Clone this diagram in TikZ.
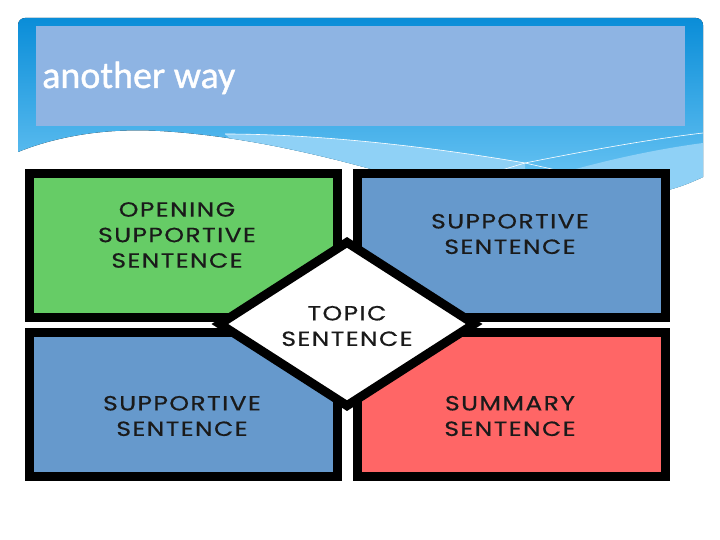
\documentclass[tikz,border=0pt]{standalone}
\usepackage{fontspec}
\usetikzlibrary{shapes.geometric,positioning}
\newfontfamily\titlefont[FakeBold=1]{Carlito}
\newfontfamily\boxfont[FakeStretch=1.22,LetterSpace=7,FakeBold=0.6]{Poppins}
\definecolor{headdark}{HTML}{0A8DD8}
\definecolor{headlight}{HTML}{6CC6F4}
\definecolor{bandlight}{HTML}{8FD1F6}
\definecolor{titlebg}{HTML}{8EB4E3}
\definecolor{boxgreen}{HTML}{66CC66}
\definecolor{boxblue}{HTML}{6699CC}
\definecolor{boxred}{HTML}{FF6666}
\definecolor{ink}{HTML}{1A1A1A}

\begin{document}
\begin{tikzpicture}[x=1pt, y=-1pt,
  panel/.style={rectangle, draw=black, line width=9pt, fill=#1, minimum width=308pt, minimum height=144pt, inner sep=0pt},
  txt/.style={font=\boxfont\fontsize{20.5}{25.5}\selectfont, align=center, text=ink, inner sep=0pt},
  wave/.style={draw=white, line width=0.6pt}
]
  \useasboundingbox (0,0) rectangle (720,540);
  % header with the wave at its foot
  \fill[top color=headdark, bottom color=headlight]
    (18,152) [rounded corners=7pt] -- (18,18) -- (703,18) [sharp corners] -- (703,177)
    .. controls (690,183) and (680,187) .. (668,190) -- (450,190) -- (360,166)
    .. controls (300,150) and (230,135) .. (160,131) .. controls (110,128) and (60,135) .. (18,152) -- cycle;
  \begin{scope}
    \clip (18,152) -- (18,18) -- (703,18) -- (703,177)
      .. controls (690,183) and (680,187) .. (668,190) -- (450,190) -- (360,166)
      .. controls (300,150) and (230,135) .. (160,131) .. controls (110,128) and (60,135) .. (18,152) -- cycle;
    \fill[bandlight] (225,134) .. controls (330,134) and (450,150) .. (525,163) -- (525,200) -- (300,200) -- cycle;
    \fill[bandlight] (703,143) .. controls (650,150) and (600,162) .. (565,172) -- (668,200) -- (710,200) -- cycle;
    \draw[wave] (225,134) .. controls (330,134) and (450,150) .. (525,163) -- (565,172);
    \draw[wave] (495,172) -- (525,163) .. controls (600,148) and (660,138) .. (703,133);
  \end{scope}
  \fill[titlebg] (36,26) rectangle (685,126);
  \node[anchor=base west, inner sep=0pt, text=white, font=\titlefont\fontsize{38}{44}\selectfont] (title) at (42,88) {another way};

  % four sentence panels
  \node[panel=boxgreen] (opening) at (183,245.5) {};
  \node[panel=boxblue] (suppone) at (511.5,245.5) {};
  \node[panel=boxblue] (supptwo) at (183,404) {};
  \node[panel=boxred] (summary) at (511.5,404) {};

  % topic in the middle
  \node[diamond, draw=black, line width=9pt, fill=white, minimum width=258pt, minimum height=167pt, inner sep=0pt] (topic) at (347,324) {};

  \node[txt] (openingtxt) at (177,235) {OPENING\\SUPPORTIVE\\SENTENCE};
  \node[txt] (supponetxt) at (510,234) {SUPPORTIVE\\SENTENCE};
  \node[txt] (topictxt) at (347,326) {TOPIC\\SENTENCE};
  \node[txt] (supptwotxt) at (182,416) {SUPPORTIVE\\SENTENCE};
  \node[txt] (summarytxt) at (510,416) {SUMMARY\\SENTENCE};
\end{tikzpicture}
\end{document}
